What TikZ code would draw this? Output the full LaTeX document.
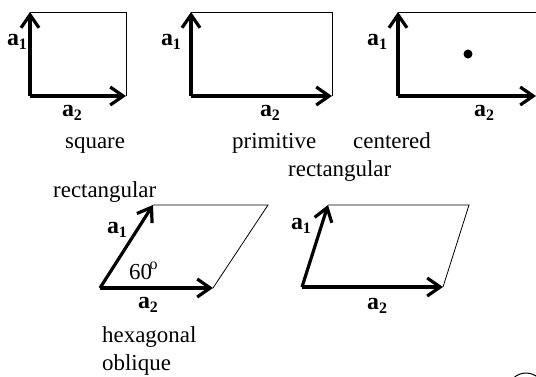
\documentclass[tikz,border=0pt]{standalone}
\usepackage{fontspec}
\setmainfont{Liberation Serif}
\usetikzlibrary{arrows.meta}
\newcommand{\vlab}[1]{\textbf{a}\raisebox{-0.35ex}{\fontsize{16}{16}\selectfont\textbf{#1}}}
\tikzset{
  vec/.style={line width=3.2bp,-{Straight Barb[length=13bp,width=18bp,line width=3.2bp]}},
  cell/.style={line width=0.8bp},
  lab/.style={font=\fontsize{24}{27}\selectfont, inner sep=0pt},
  txt/.style={font=\fontsize{23}{27}\selectfont, inner sep=0pt, anchor=base west},
}
\begin{document}
\begin{tikzpicture}[x=1bp,y=-1bp]
\useasboundingbox (0,0) rectangle (536,376);
% square
\coordinate (s0) at (30,96); \coordinate (s1) at (30,12); \coordinate (s2) at (126,96); \coordinate (s3) at (126,12);
\draw[cell] (s1) -- (s3) -- (s2);
\draw[vec] (s0) -- (s1);
\draw[vec] (s0) -- (s2);
\node[lab] (sa1) at (17,42) {\vlab{1}};
\node[lab] (sa2) at (72,113) {\vlab{2}};
\node[txt] (tsq) at (65,148) {square};
% primitive rectangular
\coordinate (p0) at (191,96); \coordinate (p1) at (191,12); \coordinate (p2) at (332,96); \coordinate (p3) at (332,12);
\draw[cell] (p1) -- (p3) -- (p2);
\draw[vec] (p0) -- (p1);
\draw[vec] (p0) -- (p2);
\node[lab] (pa1) at (171,42) {\vlab{1}};
\node[lab] (pa2) at (270,113) {\vlab{2}};
\node[txt] (tpr) at (232,148) {primitive};
\node[txt] (tre1) at (288,176) {rectangular};
% centered rectangular
\coordinate (c0) at (398,96); \coordinate (c1) at (398,12); \coordinate (c2) at (536,96); \coordinate (c3) at (540,12);
\draw[cell] (c1) -- (c3);
\draw[vec] (c0) -- (c1);
\draw[vec] (c0) -- (c2);
\fill (468,54) circle (4.5bp);
\node[lab] (ca1) at (377,42) {\vlab{1}};
\node[lab] (ca2) at (484,113) {\vlab{2}};
\node[txt] (tce) at (353,148) {centered};
% hexagonal
\coordinate (h0) at (100,288); \coordinate (h1) at (153,205); \coordinate (h2) at (213,288); \coordinate (h3) at (268,205);
\draw[cell] (h1) -- (h3) -- (h2);
\draw[vec] (h0) -- (h1);
\draw[vec] (h0) -- (h2);
\node[lab] (ha1) at (117,230) {\vlab{1}};
\node[lab] (ha2) at (148,305) {\vlab{2}};
\node[font=\fontsize{23}{26}\selectfont, inner sep=0pt, anchor=base west] (ang) at (129,279) {60\kern-2.5bp\raisebox{0.95ex}{\fontsize{16}{16}\selectfont o}};
\node[txt] (tre2) at (53,197) {rectangular};
\node[txt] (thx) at (102,342) {hexagonal};
\node[txt] (tob) at (102,370) {oblique};
% oblique
\coordinate (o0) at (302,287); \coordinate (o1) at (328,205); \coordinate (o2) at (443,287); \coordinate (o3) at (469,205);
\draw[cell] (o1) -- (o3) -- (o2);
\draw[vec] (o0) -- (o1);
\draw[vec] (o0) -- (o2);
\node[lab] (oa1) at (301,226) {\vlab{1}};
\node[lab] (oa2) at (377,306) {\vlab{2}};
% partial circle at bottom right
\begin{scope}
\clip (0,0) rectangle (536,376);
\draw[line width=1bp] (526,391) circle (18bp);
\end{scope}
\end{tikzpicture}
\end{document}
